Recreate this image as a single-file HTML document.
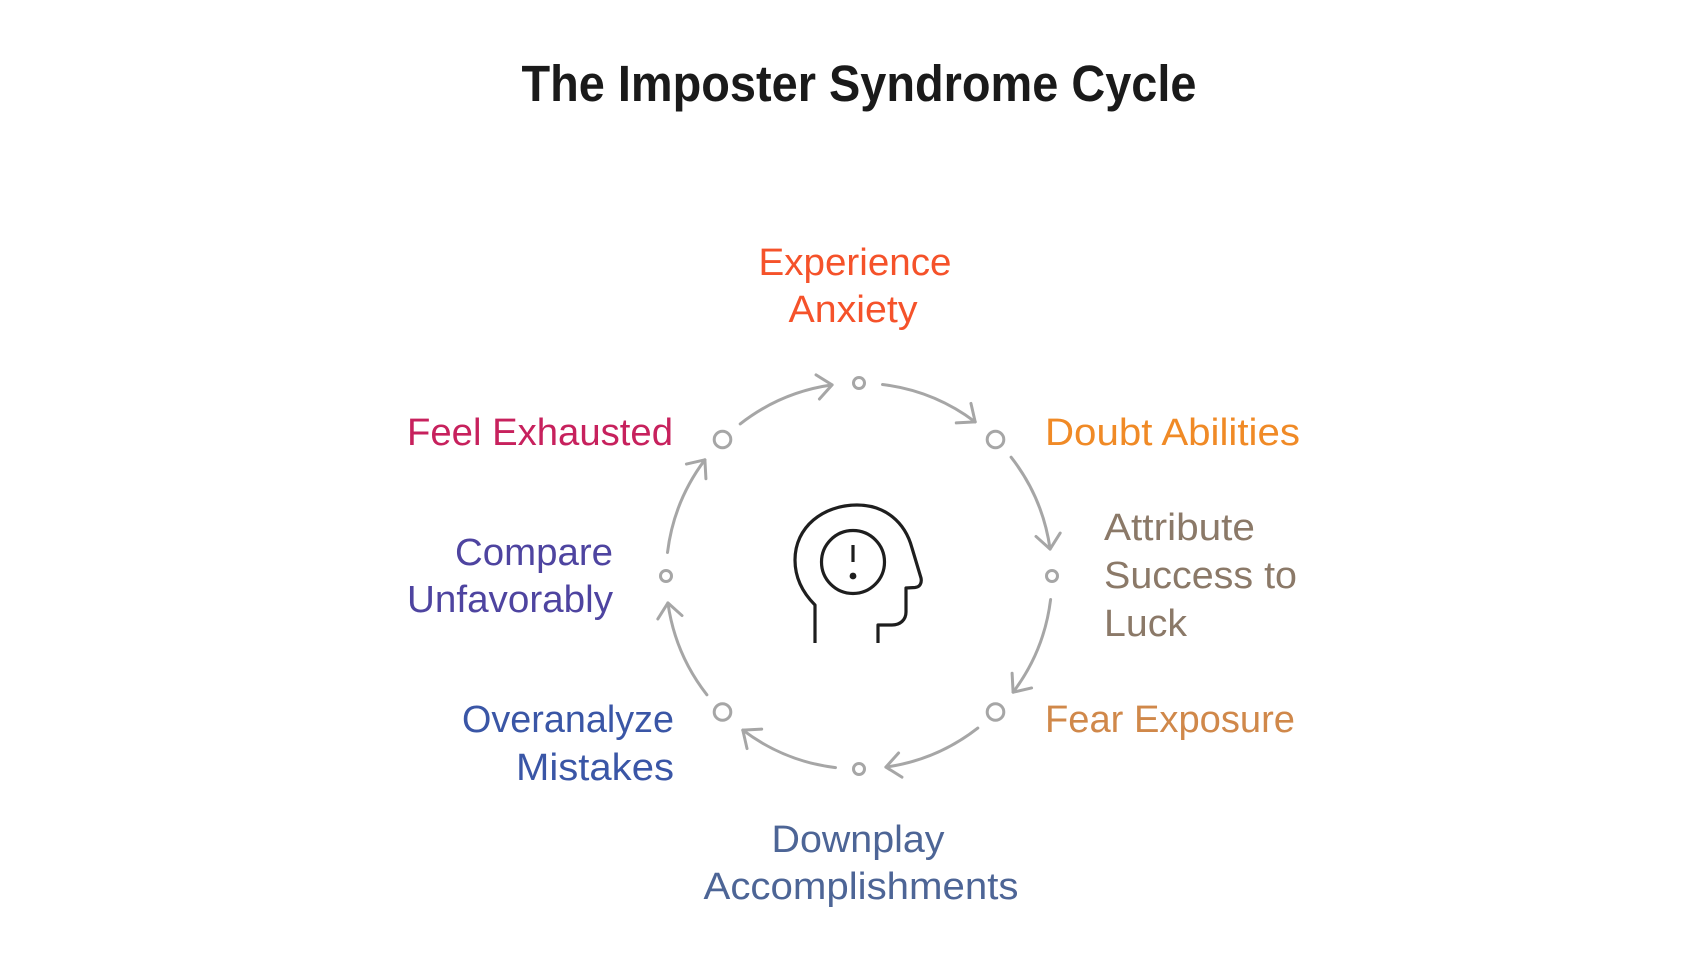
<!DOCTYPE html>
<html>
<head>
<meta charset="utf-8">
<style>
  html, body { margin:0; padding:0; background:#ffffff; }
  svg { display:block; }
  text { font-family: "Liberation Sans", Arial, sans-serif; }
</style>
</head>
<body>
<svg width="1707" height="960" viewBox="0 0 1707 960" xmlns="http://www.w3.org/2000/svg">
  <defs>
    <marker id="ah" markerUnits="userSpaceOnUse" markerWidth="40" markerHeight="40" refX="0" refY="0" orient="auto" style="overflow:visible">
      <path d="M-14.5,-12.2 L0,0 L-14.5,12.2" fill="none" stroke="#a6a6a6" stroke-width="3" stroke-linecap="round" stroke-linejoin="round"/>
    </marker>
  </defs>
  <rect width="1707" height="960" fill="#ffffff"/>

  <!-- Title -->
  <text x="859" y="101" font-size="51" font-weight="bold" fill="#1a1a1a" text-anchor="middle" textLength="675" lengthAdjust="spacingAndGlyphs">The Imposter Syndrome Cycle</text>

  <!-- Arcs -->
  <g fill="none" stroke="#a6a6a6" stroke-width="3" stroke-linecap="round" marker-end="url(#ah)">
    <path d="M882.5,384.5 A193,193 0 0 1 975.2,421.9"/>
    <path d="M1011.1,457.2 A193,193 0 0 1 1050.1,549.1"/>
    <path d="M1050.6,599.5 A193,193 0 0 1 1013.1,692.2"/>
    <path d="M977.8,728.1 A193,193 0 0 1 885.9,767.1"/>
    <path d="M835.5,767.6 A193,193 0 0 1 742.8,730.1"/>
    <path d="M706.9,694.8 A193,193 0 0 1 667.9,602.9"/>
    <path d="M667.5,552.5 A193,193 0 0 1 704.9,459.8"/>
    <path d="M740.2,423.9 A193,193 0 0 1 832.1,384.9"/>
  </g>

  <!-- Dots -->
  <g fill="#ffffff" stroke="#a6a6a6" stroke-width="3">
    <circle cx="859" cy="383" r="5.5"/>
    <circle cx="995.5" cy="439.5" r="8.3"/>
    <circle cx="1052" cy="576" r="5.5"/>
    <circle cx="995.5" cy="712" r="8.3"/>
    <circle cx="859" cy="769" r="5.5"/>
    <circle cx="722.5" cy="712" r="8.3"/>
    <circle cx="666" cy="576" r="5.5"/>
    <circle cx="722.5" cy="439.5" r="8.3"/>
  </g>

  <!-- Head icon -->
  <g fill="none" stroke="#1e1e1e" stroke-width="3.2" stroke-linejoin="round">
    <path d="M815,643 V605 C803,593 795,578 795,560 C795,527 823,505 857,505 C885,505 905,522 912,548 L921,578 C922,583 920,587 915,587.5 L906,588 V612 C906,620 900,625 892,625 H878 V643"/>
    <circle cx="853" cy="562" r="31.5"/>
    <line x1="853" y1="545" x2="853" y2="562"/>
  </g>
  <circle cx="853" cy="576" r="3.4" fill="#1e1e1e"/>

  <!-- Labels -->
  <g font-size="38">
    <text x="855" y="275" fill="#f5522a" text-anchor="middle" textLength="193" lengthAdjust="spacingAndGlyphs">Experience</text>
    <text x="853" y="322" fill="#f5522a" text-anchor="middle" textLength="129" lengthAdjust="spacingAndGlyphs">Anxiety</text>

    <text x="1045" y="445" fill="#f08a26" text-anchor="start" textLength="255" lengthAdjust="spacingAndGlyphs">Doubt Abilities</text>

    <text x="1104" y="540" fill="#8b7968" text-anchor="start" textLength="151" lengthAdjust="spacingAndGlyphs">Attribute</text>
    <text x="1104" y="588" fill="#8b7968" text-anchor="start" textLength="193" lengthAdjust="spacingAndGlyphs">Success to</text>
    <text x="1104" y="636" fill="#8b7968" text-anchor="start" textLength="83" lengthAdjust="spacingAndGlyphs">Luck</text>

    <text x="1045" y="732" fill="#d0884a" text-anchor="start" textLength="250" lengthAdjust="spacingAndGlyphs">Fear Exposure</text>

    <text x="858" y="852" fill="#4d6596" text-anchor="middle" textLength="173" lengthAdjust="spacingAndGlyphs">Downplay</text>
    <text x="861" y="899" fill="#4d6596" text-anchor="middle" textLength="315" lengthAdjust="spacingAndGlyphs">Accomplishments</text>

    <text x="674" y="732" fill="#3a56a6" text-anchor="end" textLength="212" lengthAdjust="spacingAndGlyphs">Overanalyze</text>
    <text x="674" y="780" fill="#3a56a6" text-anchor="end" textLength="158" lengthAdjust="spacingAndGlyphs">Mistakes</text>

    <text x="613" y="565" fill="#4e44a0" text-anchor="end" textLength="158" lengthAdjust="spacingAndGlyphs">Compare</text>
    <text x="613" y="612" fill="#4e44a0" text-anchor="end" textLength="206" lengthAdjust="spacingAndGlyphs">Unfavorably</text>

    <text x="673" y="445" fill="#c7215d" text-anchor="end" textLength="266" lengthAdjust="spacingAndGlyphs">Feel Exhausted</text>
  </g>
</svg>
</body>
</html>
